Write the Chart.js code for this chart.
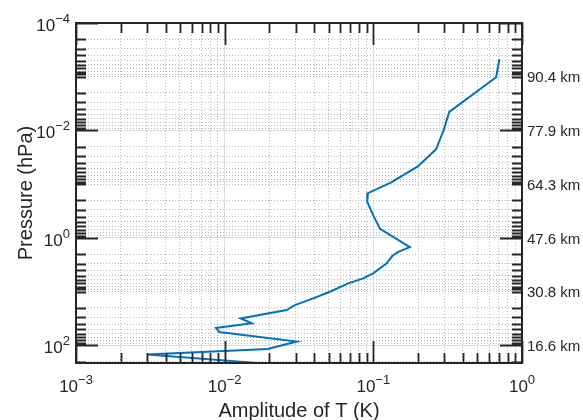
<!DOCTYPE html>
<html><head><meta charset="utf-8">
<script src="https://cdn.jsdelivr.net/npm/chart.js@4/dist/chart.umd.min.js"></script>
<style>html,body{margin:0;padding:0;background:#fff}#wrap{width:583px;height:420px}</style>
</head><body><div id="wrap"><canvas id="c" width="583" height="420"></canvas></div>
<script>
// ---- data ----
const pressure = [4.7e-4, 1.02e-3, 4.5e-3, 9.9e-3, 0.0224, 0.0467, 0.0933, 0.146, 0.212, 0.375, 0.675, 1.48, 1.81, 2.17, 2.97, 4.55, 5.64, 6.98, 10.0, 13.3, 17.7, 21.9, 31.5, 38.7, 47.3, 56.1, 84.3, 116, 147, 211];
const amplitude = [0.705, 0.67, 0.324, 0.297, 0.264, 0.199, 0.131, 0.092, 0.091, 0.0997, 0.111, 0.176, 0.147, 0.134, 0.123, 0.0998, 0.0855, 0.0678, 0.0511, 0.0394, 0.0297, 0.0261, 0.0128, 0.0152, 0.00874, 0.0092, 0.0305, 0.0195, 0.0030, 0.0165];
const xLimits = [1e-3, 1];
const yLimits = [1e-4, 212];
const xMajorTicks = [1e-3, 1e-2, 1e-1, 1];
const xTickExponents = ['\u22123', '\u22122', '\u22121', '0'];
const yMajorTicks = [1e-4, 1e-2, 1, 100];
const yTickExponents = ['\u22124', '\u22122', '0', '2'];
const altitudePressures = [1e-3, 1e-2, 1e-1, 1, 10, 100];
const altitudeLabels = ['90.4 km', '77.9 km', '64.3 km', '47.6 km', '30.8 km', '16.6 km'];
const xTitle = 'Amplitude of T (K)';
const yTitle = 'Pressure (hPa)';

// ---- helpers ----
function logTicks(min, max) {
  const out = [];
  for (let d = Math.floor(Math.log10(min)); d <= Math.ceil(Math.log10(max)); d++) {
    for (let m = 1; m <= 9; m++) {
      const v = m * Math.pow(10, d);
      if (v >= min * 0.999 && v <= max * 1.001) out.push(+v.toPrecision(6));
    }
  }
  return out;
}
const near = (a, b) => Math.abs(Math.log10(a) - Math.log10(b)) < 1e-6;
const isIn = (v, arr) => arr.some(a => near(a, v));
const xTicksAll = logTicks(xLimits[0], xLimits[1]);
const yTicksAll = logTicks(yLimits[0], yLimits[1]);

const AX = '#262626';
const FONT = '"Liberation Sans", Arial, Helvetica, sans-serif';

function gridColor(limits, majors) {
  return c => {
    const v = c.tick ? c.tick.value : null;
    if (v == null) return 'rgba(0,0,0,0)';
    if (near(v, limits[0]) || near(v, limits[1])) return 'rgba(0,0,0,0)';
    return isIn(v, majors) ? '#dedede' : '#bababa';
  };
}
function gridDash(majors) {
  return c => {
    const v = c.tick ? c.tick.value : null;
    if (v == null) return [];
    return isIn(v, majors) ? [] : [1, 2];
  };
}

function drawPow(ctx, exp, x, yBase, align) {
  ctx.font = '17px ' + FONT;
  const wb = ctx.measureText('10').width;
  ctx.font = '13px ' + FONT;
  const we = ctx.measureText(exp).width;
  const total = wb + we;
  let x0 = align === 'right' ? x - total : (align === 'center' ? x - total / 2 : x);
  ctx.textAlign = 'left';
  ctx.textBaseline = 'alphabetic';
  ctx.font = '17px ' + FONT;
  ctx.fillText('10', x0, yBase);
  ctx.font = '13px ' + FONT;
  ctx.fillText(exp, x0 + wb, yBase - 8);
}

const decor = {
  id: 'decor',
  afterDraw(chart) {
    const ctx = chart.ctx;
    const a = chart.chartArea;
    const xs = chart.scales.x, ys = chart.scales.y;
    ctx.save();
    ctx.strokeStyle = AX;
    ctx.fillStyle = AX;
    // ticks
    ctx.lineWidth = 1.8;
    ctx.beginPath();
    yTicksAll.forEach(v => {
      const p = Math.round(ys.getPixelForValue(v)) + 0.5;
      const len = isIn(v, yMajorTicks) ? 22 : 10;
      ctx.moveTo(a.left, p); ctx.lineTo(a.left + len, p);
      ctx.moveTo(a.right, p); ctx.lineTo(a.right - len, p);
    });
    xTicksAll.forEach(v => {
      const p = Math.round(xs.getPixelForValue(v)) + 0.5;
      const len = isIn(v, xMajorTicks) ? 22 : 10;
      ctx.moveTo(p, a.bottom); ctx.lineTo(p, a.bottom - len);
      ctx.moveTo(p, a.top); ctx.lineTo(p, a.top + len);
    });
    ctx.stroke();
    // box
    ctx.lineWidth = 2;
    ctx.strokeRect(a.left, a.top, a.right - a.left, a.bottom - a.top);
    // tick labels
    ctx.fillStyle = AX;
    xMajorTicks.forEach((v, i) => {
      drawPow(ctx, xTickExponents[i], xs.getPixelForValue(v), a.bottom + 29, 'center');
    });
    yMajorTicks.forEach((v, i) => {
      drawPow(ctx, yTickExponents[i], a.left - 6, ys.getPixelForValue(v) + 8, 'right');
    });
    // right altitude labels
    ctx.font = '15px ' + FONT;
    ctx.textAlign = 'left';
    ctx.textBaseline = 'middle';
    altitudePressures.forEach((v, i) => {
      ctx.fillText(altitudeLabels[i], a.right + 5, ys.getPixelForValue(v) + 1.5);
    });
    // axis titles
    ctx.font = '20px ' + FONT;
    ctx.textAlign = 'center';
    ctx.textBaseline = 'alphabetic';
    ctx.fillText(xTitle, (a.left + a.right) / 2, 416.5);
    ctx.save();
    ctx.translate(32, (a.top + a.bottom) / 2);
    ctx.rotate(-Math.PI / 2);
    ctx.fillText(yTitle, 0, 0);
    ctx.restore();
    ctx.restore();
  }
};

new Chart(document.getElementById('c'), {
  type: 'scatter',
  data: {
    datasets: [{
      data: pressure.map((p, i) => ({ x: amplitude[i], y: p })),
      showLine: true,
      borderColor: '#0072BD',
      backgroundColor: '#0072BD',
      borderWidth: 2,
      pointRadius: 0,
      tension: 0,
      fill: false
    }]
  },
  options: {
    responsive: false,
    devicePixelRatio: 1,
    animation: false,
    layout: { padding: { left: 76, right: 61, top: 23, bottom: 57 } },
    plugins: { legend: { display: false }, tooltip: { enabled: false } },
    scales: {
      x: {
        type: 'logarithmic',
        min: xLimits[0], max: xLimits[1],
        afterBuildTicks: s => { s.ticks = xTicksAll.map(v => ({ value: v })); },
        afterFit: s => { s.height = 0; },
        ticks: { display: false, autoSkip: false },
        grid: { color: gridColor(xLimits, xMajorTicks), lineWidth: 1, drawTicks: false },
        border: { display: false, dash: gridDash(xMajorTicks) }
      },
      y: {
        type: 'logarithmic',
        reverse: true,
        min: yLimits[0], max: yLimits[1],
        afterBuildTicks: s => { s.ticks = yTicksAll.map(v => ({ value: v })); },
        afterFit: s => { s.width = 0; },
        ticks: { display: false, autoSkip: false },
        grid: { color: gridColor(yLimits, yMajorTicks), lineWidth: 1, drawTicks: false },
        border: { display: false, dash: gridDash(yMajorTicks) }
      }
    }
  },
  plugins: [decor]
});
</script></body></html>
